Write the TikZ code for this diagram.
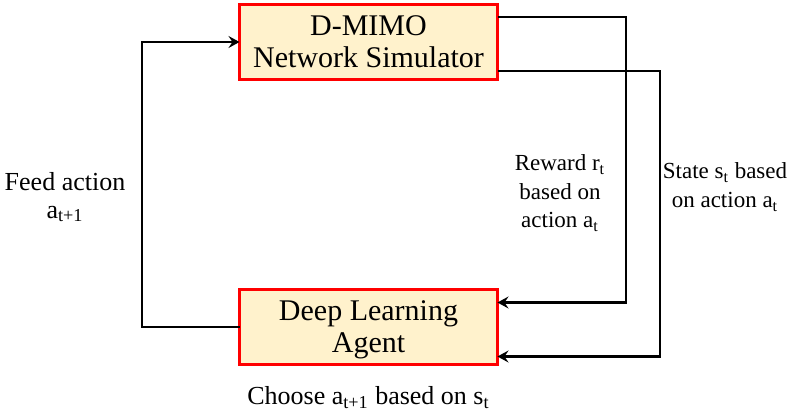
\documentclass[tikz,border=0pt]{standalone}
\usepackage{fontspec}
\setmainfont{Liberation Serif}
\usepackage{tikz}
\usetikzlibrary{arrows.meta, positioning}
\definecolor{boxfill}{HTML}{FFF2CC}
\definecolor{boxred}{HTML}{FF0000}

\begin{document}
\begin{tikzpicture}[
			block/.style={rectangle, draw=boxred, fill=boxfill, line width=1.5pt, minimum width=129pt, minimum height=37.5pt, inner sep=0pt, outer sep=0pt, text depth=0pt, align=center, font=\rmfamily\fontsize{15}{18.5}\selectfont},
			flow/.style={line width=1.2pt, -{Stealth[length=5.5pt, width=6pt, inset=2pt]}},
			note/.style={align=center, inner sep=0pt}
		]
		\useasboundingbox (0pt,0pt) rectangle (394.5pt,-207pt);
		% Blocks
		\node[block] (sim) at (184.25pt,-21pt) {D-MIMO\\[-2.5pt]Network Simulator};
		\node[block, below=105pt of sim] (agent) {Deep Learning\\[-2.5pt]Agent};
		
		% Loop connectors
		\draw[flow] (agent.west) -- ++(-48.75pt,0) |- (sim.west);
		\draw[flow] ([yshift=12.5pt]sim.east) -- ++(64.25pt,0) |- ([yshift=12.25pt]agent.east);
		\draw[flow] ([yshift=-14.5pt]sim.east) -- ++(81.25pt,0) |- ([yshift=-14.75pt]agent.east);
		
		% Labels
		\node[note, font=\rmfamily\fontsize{13}{14}\selectfont] (feed) at (32.5pt,-98.5pt) {Feed action\\a\textsubscript{t+1}};
		\node[note, font=\rmfamily\fontsize{11.5}{14.25}\selectfont] (reward) at (280pt,-96.5pt) {Reward r\textsubscript{t}\\based on\\action a\textsubscript{t}};
		\node[note, font=\rmfamily\fontsize{11.5}{14.5}\selectfont] (state) at (362.5pt,-93.5pt) {State s\textsubscript{t} based\\on action a\textsubscript{t}};
		\node[note, font=\rmfamily\fontsize{13}{14}\selectfont, below=11pt of agent] (choose) {Choose a\textsubscript{t+1} based on s\textsubscript{t}};
\end{tikzpicture}
\end{document}
